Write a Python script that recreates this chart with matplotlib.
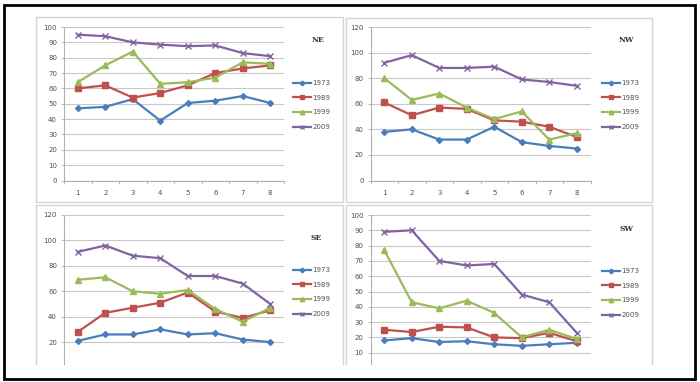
import matplotlib
matplotlib.use('Agg')
import matplotlib.pyplot as plt
from matplotlib.patches import Rectangle

# values (site 1..8)
sites = [1, 2, 3, 4, 5, 6, 7, 8]
years = ['1973', '1989', '1999', '2009']

ne_1973 = [47, 48, 53, 39, 50.5, 52, 55, 50.5]
ne_1989 = [60, 62, 54, 57, 62, 70, 73, 75]
ne_1999 = [64, 75, 84, 63, 64, 67, 77, 76]
ne_2009 = [95, 94, 90, 88.5, 87.5, 88, 83, 81]

nw_1973 = [38, 40, 32, 32, 42, 30, 27, 25]
nw_1989 = [61, 51, 57, 56, 47, 46, 42, 34]
nw_1999 = [80, 63, 68, 57, 48, 54, 32, 37]
nw_2009 = [92, 98, 88, 88, 89, 79, 77, 74]

se_1973 = [21, 26, 26, 30, 26, 27, 22, 20]
se_1989 = [28, 43, 47, 51, 59, 44, 39, 45]
se_1999 = [69, 71, 60, 58, 61, 46, 36, 47]
se_2009 = [91, 96, 88, 86, 72, 72, 66, 50]

sw_1973 = [18, 19.5, 17, 17.5, 15.5, 14.5, 15.5, 16.5]
sw_1989 = [25, 23.5, 27, 26.5, 20, 19.5, 23, 17.5]
sw_1999 = [77, 43, 39, 44, 36, 20, 25, 19]
sw_2009 = [89, 90, 70, 67, 68, 48, 43, 23]

colors = ['#4a7ebb', '#c0504d', '#9bbb59', '#8064a2']
markers = ['D', 's', '^', 'x']
msizes = [3, 4, 4, 4]

W, H = 700, 382
fig = plt.figure(figsize=(W / 100, H / 100), dpi=100)
fig.patch.set_facecolor('white')


def fig_rect(x0, y_top, x1, y_bot):
    return [x0 / W, 1 - y_bot / H, (x1 - x0) / W, (y_bot - y_top) / H]


def frame(x0, y_top, x1, y_bot):
    fig.add_artist(Rectangle((x0 / W, 1 - y_bot / H), (x1 - x0) / W, (y_bot - y_top) / H,
                             transform=fig.transFigure, fill=False,
                             edgecolor='#d4d4d4', lw=1.0, zorder=1))


# name, series, ymax, ystep, plot area px, chart frame px, legend pos px, title pos px, cut
panels = [
    ('NE', [ne_1973, ne_1989, ne_1999, ne_2009], 100, 10,
     (64, 27, 284, 180.5), (36, 17, 343, 202), (293, 80), (318, 40), False),
    ('NW', [nw_1973, nw_1989, nw_1999, nw_2009], 120, 20,
     (370.5, 27, 590.5, 180.5), (346, 18, 652, 202), (602, 80), (626, 40), False),
    ('SE', [se_1973, se_1989, se_1999, se_2009], 120, 20,
     (64, 215, 284, 367.5), (36, 205, 343, 372), (293, 267), (316, 238), True),
    ('SW', [sw_1973, sw_1989, sw_1999, sw_2009], 100, 10,
     (370.5, 215, 590.5, 368), (346, 205, 652, 372), (602, 268), (627, 229), True),
]

for name, series, ymax, ystep, area, box, leg, ttl, cut in panels:
    frame(*box)
    ax = fig.add_axes(fig_rect(*area))
    ax.set_facecolor('none')
    for yr, vals, c, m, ms in zip(years, series, colors, markers, msizes):
        ax.plot(sites, vals, color=c, lw=1.6, marker=m, ms=ms,
                mew=1.0, label=yr, solid_joinstyle='round')
    ax.set_xlim(0.5, 8.5)
    ax.set_ylim(0, ymax)
    ax.set_yticks(range(0, ymax + 1, ystep))
    ax.set_xticks(sites)
    ax.set_xticks([i + 0.5 for i in range(0, 9)], minor=True)
    ax.yaxis.grid(True, color='#c8c8c8', lw=0.8)
    ax.set_axisbelow(True)
    for s in ['top', 'right']:
        ax.spines[s].set_visible(False)
    for s in ['left', 'bottom']:
        ax.spines[s].set_color('#b0b0b0')
        ax.spines[s].set_linewidth(0.8)
    ax.tick_params(axis='y', labelsize=5, colors='#b0b0b0', labelcolor='#505050',
                   length=2, width=0.6, pad=3)
    ax.tick_params(axis='x', which='major', labelsize=5, labelcolor='#505050',
                   length=0, pad=7, labelbottom=not cut)
    ax.tick_params(axis='x', which='minor', colors='#b0b0b0', length=2, width=0.6)
    ax.legend(loc='upper left', bbox_to_anchor=(leg[0] / W, 1 - leg[1] / H),
              bbox_transform=fig.transFigure, frameon=False, fontsize=5,
              handlelength=2.6, handletextpad=0.2, labelspacing=1.25,
              borderaxespad=0, borderpad=0, markerscale=0.8,
              labelcolor='#505050')
    fig.text(ttl[0] / W, 1 - ttl[1] / H, name, fontsize=5.5, fontweight='bold',
             family='DejaVu Serif', ha='center', va='center', color='#303030')

# the lower charts are cut off at the bottom of the screenshot
fig.add_artist(Rectangle((7 / W, 1 - 377 / H), (690 - 7) / W, (377 - 365) / H,
                         transform=fig.transFigure, facecolor='white',
                         edgecolor='none', zorder=5))

# outer black border
fig.add_artist(Rectangle((4 / W, 1 - 379 / H), (695 - 4) / W, (379 - 5) / H,
                         transform=fig.transFigure, fill=False,
                         edgecolor='black', lw=2.0, zorder=6))

fig.savefig('out.png', dpi=100)
